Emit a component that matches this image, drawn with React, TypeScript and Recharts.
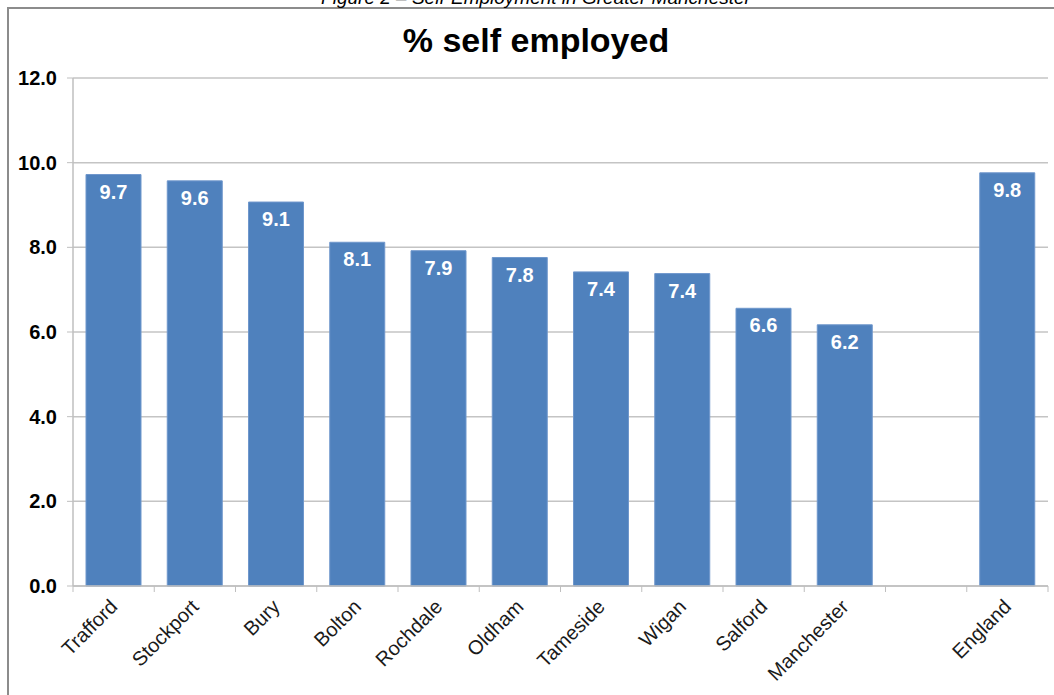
import React from "react";
import { BarChart, Bar, XAxis, YAxis, CartesianGrid, LabelList } from "recharts";

const categories = [
  "Trafford", "Stockport", "Bury", "Bolton", "Rochdale", "Oldham",
  "Tameside", "Wigan", "Salford", "Manchester", "", "England",
];
const selfEmployed = [9.72, 9.57, 9.07, 8.12, 7.92, 7.76, 7.42, 7.38, 6.56, 6.17, null, 9.76];
const yTicks = [0, 2, 4, 6, 8, 10, 12];

const data = categories.map((name, i) => ({ name, value: selfEmployed[i] }));

const FONT = "'Liberation Sans', Arial, sans-serif";

const XTick = (props: any) => {
  const { x, y, payload, index, width } = props;
  const axisY = y - 6;
  const half = width / categories.length / 2;
  const ax = x + 5;
  const ay = axisY + 22;
  return (
    <g>
      <line x1={x - half} y1={axisY} x2={x - half} y2={axisY + 6} stroke="#bfbfbf" />
      {index === categories.length - 1 && (
        <line x1={x + half} y1={axisY} x2={x + half} y2={axisY + 6} stroke="#bfbfbf" />
      )}
      {payload.value ? (
        <text
          x={ax}
          y={ay}
          textAnchor="end"
          fontSize={20}
          fontFamily={FONT}
          fill="#1a1a1a"
          transform={`rotate(-45, ${ax}, ${ay})`}
        >
          {payload.value}
        </text>
      ) : null}
    </g>
  );
};

export default function App() {
  return (
    <div
      style={{
        position: "absolute",
        left: 0,
        top: 0,
        width: 1054,
        height: 695,
        overflow: "hidden",
        background: "#fff",
        fontFamily: FONT,
      }}
    >
      <div
        style={{
          position: "absolute",
          left: 7,
          top: 7,
          width: 1100,
          height: 800,
          border: "2px solid #8c8c8c",
        }}
      />
      <svg width={1054} height={695} style={{ position: "absolute", left: 0, top: 0 }}>
        <text x={536} y={4} textAnchor="middle" fontSize={19} fontStyle="italic" fontFamily={FONT} fill="#000">
          Figure 2 – Self-Employment in Greater Manchester
        </text>
        <text x={536} y={52} textAnchor="middle" fontSize={34} fontWeight="bold" fontFamily={FONT} fill="#000">
          % self employed
        </text>
      </svg>
      <div style={{ position: "absolute", left: 0, top: 0 }}>
        <BarChart
          width={1054}
          height={695}
          data={data}
          margin={{ top: 78, right: 6, left: 0, bottom: 9 }}
        >
          <CartesianGrid vertical={false} stroke="#c4c4c4" strokeWidth={1.5} />
          <XAxis
            dataKey="name"
            interval={0}
            height={100}
            tickSize={6}
            tickMargin={0}
            tickLine={false}
            axisLine={{ stroke: "#bfbfbf", strokeWidth: 1.5 }}
            tick={<XTick />}
          />
          <YAxis
            width={73}
            domain={[0, 12]}
            ticks={yTicks}
            interval={0}
            tickSize={6}
            tickMargin={10}
            tickFormatter={(v: number) => v.toFixed(1)}
            tickLine={{ stroke: "#bfbfbf" }}
            axisLine={{ stroke: "#bfbfbf", strokeWidth: 1.5 }}
            tick={{ fill: "#000", fontSize: 20, fontWeight: "bold", fontFamily: FONT }}
          />
          <Bar dataKey="value" fill="#4f81bd" stroke="#6f97cc" strokeWidth={1} barSize={55} isAnimationActive={false}>
            <LabelList
              dataKey="value"
              position="insideTop"
              offset={10}
              fill="#fff"
              fontSize={20}
              fontWeight="bold"
              fontFamily={FONT}
              formatter={(v: any) => (v == null ? "" : Number(v).toFixed(1))}
            />
          </Bar>
        </BarChart>
      </div>
    </div>
  );
}
